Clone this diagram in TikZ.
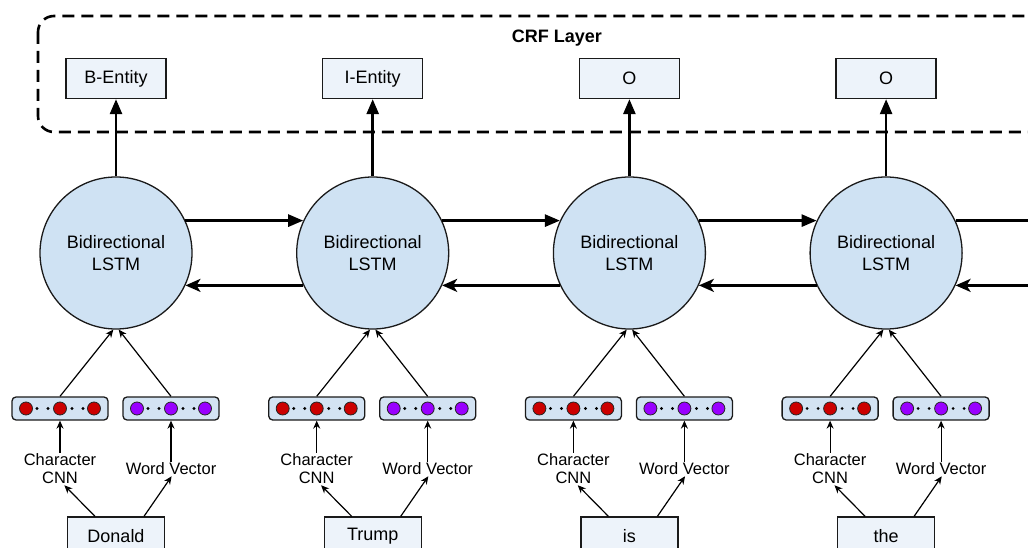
\documentclass[tikz,border=0pt]{standalone}
\usepackage{fontspec}
\setmainfont{Liberation Sans}
\usetikzlibrary{arrows.meta}
\definecolor{lstmfill}{HTML}{CFE2F3}
\definecolor{boxfill}{HTML}{EDF3FA}
\definecolor{vecfill}{HTML}{D3E3F3}
\definecolor{chardot}{HTML}{CC0000}
\definecolor{worddot}{HTML}{9900FF}
\definecolor{edge}{HTML}{1A1A1A}
\begin{document}
\begin{tikzpicture}[x=1pt,y=-1pt,
  lstm/.style={circle,draw=edge,line width=1.3pt,fill=lstmfill,minimum size=152pt,inner sep=0pt,align=center,font=\fontsize{18}{22}\selectfont},
  tagbox/.style={draw=edge,line width=1.3pt,fill=boxfill,minimum width=100pt,minimum height=40pt,inner sep=0pt,font=\fontsize{18}{21}\selectfont},
  wordbox/.style={tagbox,minimum width=97pt,minimum height=38pt},
  vecbox/.style={draw=edge,line width=1.3pt,fill=vecfill,rounded corners=4pt,minimum width=96pt,minimum height=23pt,inner sep=0pt},
  lbl/.style={align=center,inner sep=1pt,font=\fontsize{16.5}{18}\selectfont},
  fwd/.style={line width=2.6pt,-{Triangle[length=15pt,width=12pt]}},
  bwd/.style={line width=2.6pt,-{Stealth[length=15pt,width=13pt,inset=4pt]}},
  thin/.style={line width=1.2pt,-{Stealth[length=8pt,width=7pt]}},
  dot/.style={line width=0.8pt,draw=black!85},
]
\useasboundingbox (0,0) rectangle (1028,548);
\clip (0,0) rectangle (1028,548);

% CRF layer frame
\draw[line width=2.6pt,dash pattern=on 12pt off 7pt,rounded corners=16pt] (38,16) rectangle (1070,132);
\node[font=\bfseries\fontsize{18}{21}\selectfont] (crf) at (557,38) {CRF Layer};

% one column per token
\foreach \i/\tag/\word in {0/B-Entity/Donald,1/I-Entity/Trump,2/O/is,3/O/the}{
  \pgfmathsetmacro\cx{116+256.7*\i}
  \node[lstm] (c\i) at (\cx,253) {Bidirectional\\LSTM};
  \node[tagbox] (t\i) at (\cx,78.5) {\tag};
  \node[vecbox] (vc\i) at (\cx-56,408.5) {};
  \node[vecbox] (vw\i) at (\cx+55,408.5) {};
  \node[lbl] (lc\i) at (\cx-56,469) {Character\\CNN};
  \node[lbl] (lw\i) at (\cx+55,469) {Word Vector};
  \node[wordbox] (w\i) at (\cx,536) {\word};

  % embedding dots
  \foreach \dx in {-34,0,34}{
    \filldraw[dot,fill=chardot] ([xshift=\dx pt]vc\i.center) circle[radius=6.5pt];
    \filldraw[dot,fill=worddot] ([xshift=\dx pt]vw\i.center) circle[radius=6.5pt];
  }
  \foreach \dx in {-23,-12,12,23}{
    \fill ([xshift=\dx pt]vc\i.center) circle[radius=1.6pt];
    \fill ([xshift=\dx pt]vw\i.center) circle[radius=1.6pt];
  }

  % connectors
  \draw[fwd] (c\i) -- (t\i);
  \draw[thin] (vc\i.north) -- (c\i.268);
  \draw[thin] (vw\i.north) -- (c\i.272);
  \draw[thin] (lc\i) -- (vc\i);
  \draw[thin] (lw\i) -- (vw\i);
  \draw[thin] ([xshift=-21pt]w\i.north) -- (lc\i.-75);
  \draw[thin] ([xshift=28pt]w\i.north) -- (lw\i.-85);
}

% recurrent links between neighbouring cells
\foreach \i/\j in {0/1,1/2,2/3}{
  \draw[fwd] (c\i.25) -- (c\j.155);
  \draw[bwd] (c\j.205) -- (c\i.-25);
}
\path (c3.25) -- ++(200,0) coordinate (fout);
\path (c3.-25) -- ++(200,0) coordinate (bin);
\draw[line width=2.6pt] (c3.25) -- (fout);
\draw[bwd] (bin) -- (c3.-25);
\end{tikzpicture}
\end{document}
